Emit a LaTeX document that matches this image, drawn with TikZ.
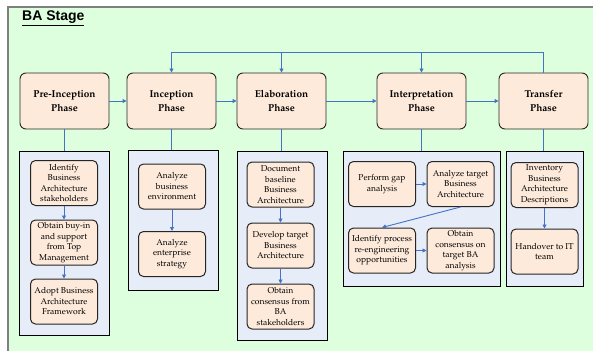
\documentclass[tikz,border=0pt]{standalone}
\usepackage[T1]{fontenc}
\usepackage{fontspec}
\setsansfont{Liberation Sans}
\usetikzlibrary{arrows.meta}
\newcommand\palafont{\fontencoding{T1}\fontfamily{ppl}\selectfont}
\definecolor{stagegreen}{HTML}{DDFFDD}
\definecolor{framegrey}{HTML}{7F7F7F}
\definecolor{peach}{HTML}{FDEADA}
\definecolor{panelblue}{HTML}{E6ECF8}
\definecolor{flowblue}{HTML}{4472C4}
\definecolor{edgegrey}{HTML}{262626}
\tikzset{
  phase/.style={draw=edgegrey, fill=peach, rounded corners=6pt, line width=0.9pt,
    minimum width=89pt, minimum height=56pt, align=center, inner sep=1pt,
    font=\palafont\bfseries\fontsize{10}{14}\selectfont},
  panel/.style={draw=black, fill=panelblue, line width=0.9pt, inner sep=0pt},
  task/.style={draw=edgegrey, fill=peach, rounded corners=5pt, line width=1pt,
    minimum width=67pt, minimum height=45pt, align=center, inner sep=1pt,
    font=\palafont\fontsize{8.5}{10.5}\selectfont},
  flow/.style={draw=flowblue, line width=0.9pt, -{Triangle[length=4pt,width=4pt]}},
  link/.style={draw=flowblue, line width=0.9pt},
}
\begin{document}
\begin{tikzpicture}[x=1pt,y=-1pt]
\clip (0,0) rectangle (593,350);
% stage background and frame
\fill[stagegreen] (8,7) rectangle (600,360);
\draw[framegrey, line width=1.5pt] (8,360) -- (8,7) -- (600,7);
\node[font=\sffamily\bfseries\fontsize{14}{16}\selectfont, anchor=base west, inner sep=0pt] (title) at (22,21) {\underline{BA Stage}};

% phases
\node[phase] (pre) at (64.5,101) {Pre-Inception\\Phase};
\node[phase] (inc) at (171.5,101) {Inception\\Phase};
\node[phase] (ela) at (281.5,101) {Elaboration\\Phase};
\node[phase] (int) at (421.5,101) {Interpretation\\Phase};
\node[phase] (tra) at (543.5,101) {Transfer\\Phase};

\draw[flow] (pre) -- (inc);
\draw[flow] (inc) -- (ela);
\draw[flow] (ela) -- (int);
\draw[flow] (int) -- (tra);

% feedback from transfer
\coordinate (fb) at (0,52);
\draw[flow] (tra.north) -- (tra.north |- fb) -| (inc.north);
\draw[flow] (ela.north |- fb) -- (ela.north);
\draw[flow] (int.north |- fb) -- (int.north);

% activity panels, each with a faint shadow
\foreach \cx/\cy/\w/\h in {64/243/90/184, 173/220/90/140, 282/245.5/90/189, 421.5/218.5/157/135, 544.5/218.5/77/135}
  \fill[black!35] (\cx-\w/2+1.2,\cy-\h/2+1.2) rectangle (\cx+\w/2+1.2,\cy+\h/2+1.2);
\node[panel, minimum width=90pt, minimum height=184pt] (p1) at (64,243) {};
\node[panel, minimum width=90pt, minimum height=140pt] (p2) at (173,220) {};
\node[panel, minimum width=90pt, minimum height=189pt] (p3) at (282,245.5) {};
\node[panel, minimum width=157pt, minimum height=135pt] (p4) at (421.5,218.5) {};
\node[panel, minimum width=77pt, minimum height=135pt] (p5) at (544.5,218.5) {};

\draw[link] (pre.south) -- (pre.south |- p1.north);
\draw[link] (inc.south) -- (inc.south |- p2.north);
\draw[link] (ela.south) -- (ela.south |- p3.north);
\draw[link] (int.south) -- (int.south |- p4.north);
\draw[link] (tra.south) -- (tra.south |- p5.north);

% pre-inception activities
\node[task] (a1) at (64,183) {Identify\\Business\\Architecture\\stakeholders};
\node[task] (a2) at (64,242.5) {Obtain buy-in\\and support\\from Top\\Management};
\node[task] (a3) at (64,301.5) {Adopt Business\\Architecture\\Framework};
\draw[flow] (a1) -- (a2);
\draw[flow] (a2) -- (a3);

% inception activities
\node[task] (b1) at (172,186.5) {Analyze\\business\\environment};
\node[task] (b2) at (172,254) {Analyze\\enterprise\\strategy};
\draw[flow] (b1) -- (b2);

% elaboration activities
\node[task] (c1) at (280.5,184.5) {Document\\baseline\\Business\\Architecture};
\node[task] (c2) at (280.5,245.5) {Develop target\\Business\\Architecture};
\node[task] (c3) at (280.5,306.5) {Obtain\\consensus from\\BA\\stakeholders};
\draw[flow] (c1) -- (c2);
\draw[flow] (c2) -- (c3);

% interpretation activities
\node[task] (d1) at (382,184) {Perform gap\\analysis};
\node[task] (d2) at (460.5,184) {Analyze target\\Business\\Architecture};
\node[task] (d3) at (382,250.5) {Identify process\\re-engineering\\opportunities};
\node[task] (d4) at (460.5,250.5) {Obtain\\consensus on\\target BA\\analysis};
\draw[flow] (d1) -- (d2);
\draw[flow] (d2.south) -- (d3.north);
\draw[flow] (d3) -- (d4);

% transfer activities
\node[task] (e1) at (544.5,185) {Inventory\\Business\\Architecture\\Descriptions};
\node[task] (e2) at (544.5,251.5) {Handover to IT\\team};
\draw[flow] (e1) -- (e2);
\end{tikzpicture}
\end{document}
